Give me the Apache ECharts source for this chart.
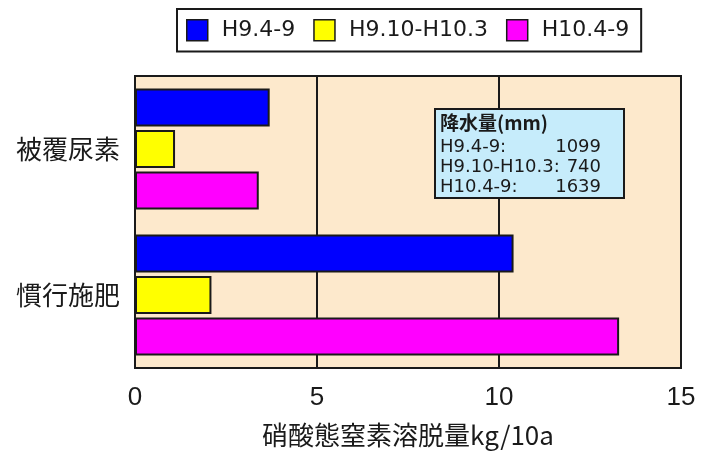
<!DOCTYPE html>
<html>
<head>
<meta charset="utf-8">
<script src="https://cdn.jsdelivr.net/npm/echarts@6/dist/echarts.min.js"></script>
<style>
html,body{margin:0;padding:0;background:#fff;}
#chart{width:707px;height:453px;}
</style>
</head>
<body>
<div id="chart"></div>
<script>
// Nitrate-nitrogen leaching by fertilizer type and period
const categories = ['被覆尿素', '慣行施肥'];
const periods = ['H9.4-9', 'H9.10-H10.3', 'H10.4-9'];
const leachH9_4_9 = [3.7, 10.4];
const leachH9_10_H10_3 = [1.1, 2.1];
const leachH10_4_9 = [3.4, 13.3];
const xTicks = [0, 5, 10, 15];
// Precipitation (mm) per period, shown in the note box
const rainfall = [1099, 740, 1639];

const colors = ['#0000FF', '#FFFF00', '#FF00FF'];
const cjk = '"Noto Sans CJK JP", sans-serif';
const latin = '"DejaVu Sans", "Noto Sans CJK JP", sans-serif';
const ink = '#1a1a1a';

const seriesValues = [leachH9_4_9, leachH9_10_H10_3, leachH10_4_9];

const chart = echarts.init(document.getElementById('chart'));

const noteChildren = [
  { type: 'rect', z: 100, shape: { x: 0, y: 0, width: 189, height: 89 },
    style: { fill: '#C6ECFB', stroke: ink, lineWidth: 2 } },
  { type: 'text', z: 101, x: 5, y: 14,
    style: { text: '降水量(mm)', font: 'bold 19px ' + cjk, fill: ink, verticalAlign: 'middle' } }
];
periods.forEach((p, i) => {
  const y = 38 + i * 20;
  noteChildren.push({ type: 'text', z: 101, x: 5, y: y,
    style: { text: p + ':', font: '18px ' + latin, fill: ink, verticalAlign: 'middle' } });
  noteChildren.push({ type: 'text', z: 101, x: 166, y: y,
    style: { text: String(rainfall[i]), font: '18px ' + latin, fill: ink, align: 'right', verticalAlign: 'middle' } });
});

chart.setOption({
  animation: false,
  backgroundColor: '#fff',
  legend: {
    data: periods.map(p => ({ name: p, icon: 'rect' })),
    left: 177, top: 9,
    padding: [10, 12, 10, 9],
    borderColor: ink, borderWidth: 2, borderRadius: 0,
    backgroundColor: '#fff',
    itemWidth: 21, itemHeight: 21, itemGap: 18,
    itemStyle: { borderColor: ink, borderWidth: 1.5 },
    textStyle: { fontSize: 22, color: ink, fontFamily: latin, padding: [0, 0, 0, 9] }
  },
  grid: { left: 135, right: 26, top: 76, bottom: 80, backgroundColor: '#FDE9CC', show: true, borderColor: ink, borderWidth: 2 },
  xAxis: {
    type: 'value', min: xTicks[0], max: xTicks[xTicks.length - 1], interval: 5,
    name: '硝酸態窒素溶脱量kg/10a', nameLocation: 'middle', nameGap: 54,
    nameTextStyle: { fontSize: 26, color: ink, fontFamily: cjk },
    axisLine: { show: false }, axisTick: { show: false },
    axisLabel: { fontSize: 26, color: ink, margin: 17, fontFamily: '"Liberation Sans", sans-serif' },
    splitLine: { show: true, lineStyle: { color: ink, width: 2 } }
  },
  yAxis: {
    type: 'category', data: categories, inverse: true,
    axisLine: { show: false }, axisTick: { show: false },
    axisLabel: { fontSize: 26, color: ink, margin: 15, fontFamily: cjk },
    splitLine: { show: false }
  },
  series: periods.map((p, i) => ({
    name: p, type: 'bar', data: seriesValues[i],
    barWidth: 38, barGap: '9%',
    itemStyle: { color: colors[i], borderColor: ink, borderWidth: 2 }
  })),
  graphic: [{ type: 'group', left: 434, top: 108, z: 100, children: noteChildren }]
});
</script>
</body>
</html>
